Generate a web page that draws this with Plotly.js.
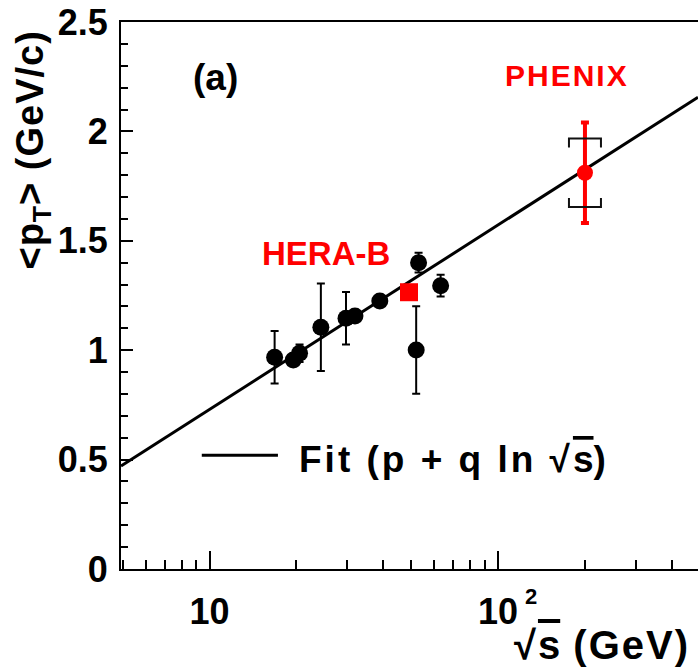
<!DOCTYPE html>
<html>
<head>
<meta charset="utf-8">
<script src="https://cdn.plot.ly/plotly-3.0.1.min.js"></script>
<style>
  html, body { margin: 0; padding: 0; background: #fff; }
  #chart { width: 698px; height: 668px; }
</style>
</head>
<body>
<div id="chart"></div>
<script>
// Mean transverse momentum of J/psi versus collision energy

// Lower-energy measurements (black circles)
const worldSqrtS   = [16.8, 19.5, 20.5, 24.3, 29.7, 31.9, 38.9, 53.0, 52.0, 63.2];
const worldMeanPt  = [0.968, 0.955, 0.986, 1.105, 1.146, 1.156, 1.225, 1.400, 1.001, 1.295];
const worldErr     = [0.12, 0, 0.04, 0.20, 0.12, 0, 0, 0.045, 0.20, 0.05];

// HERA-B (red square)
const herabSqrtS  = [49.1];
const herabMeanPt = [1.265];

// PHENIX (red circle) with statistical and systematic uncertainties
const phenixSqrtS  = [200];
const phenixMeanPt = [1.811];
const phenixStat   = [0.23];
const phenixSys    = [0.157];

// Fit  <pT> = p + q ln(sqrt(s))
const fitP = -0.113;
const fitQ = 0.366;
const fitRange = [4.93, 493];

// Axis ticks
const xMajorTicks = [10, 100];
const xMajorText  = ['10', '10'];
const xMinorTicks = [5, 6, 7, 8, 9, 20, 30, 40, 50, 60, 70, 80, 90, 200, 300, 400];

const FONT = 'Liberation Sans, Arial, Helvetica, sans-serif';

const fitY = fitRange.map(s => fitP + fitQ * Math.log(s));

const traces = [
  {
    x: fitRange, y: fitY, type: 'scatter', mode: 'lines',
    line: { color: 'black', width: 3 }, showlegend: false, hoverinfo: 'skip'
  },
  {
    x: worldSqrtS, y: worldMeanPt, type: 'scatter', mode: 'markers',
    marker: { symbol: 'circle', size: 17, color: 'black' },
    error_y: { type: 'data', array: worldErr, visible: true, color: 'black', thickness: 2, width: 4 },
    showlegend: false
  },
  {
    x: herabSqrtS, y: herabMeanPt, type: 'scatter', mode: 'markers',
    marker: { symbol: 'square', size: 18, color: '#ff0000' },
    showlegend: false
  },
  {
    x: phenixSqrtS, y: phenixMeanPt, type: 'scatter', mode: 'markers',
    marker: { symbol: 'circle', size: 16, color: '#ff0000' },
    error_y: { type: 'data', array: phenixStat, visible: true, color: '#ff0000', thickness: 4, width: 4 },
    showlegend: false
  }
];

// Systematic-uncertainty brackets, pixel sized, anchored on the PHENIX point
const shapes = [];
phenixSqrtS.forEach((s, i) => {
  shapes.push({
    type: 'path', xref: 'x', yref: 'y',
    xsizemode: 'pixel', ysizemode: 'pixel',
    xanchor: s, yanchor: phenixMeanPt[i] + phenixSys[i],
    path: 'M-16,-9 L-16,0 L16,0 L16,-9',
    line: { color: '#111', width: 2 }
  });
  shapes.push({
    type: 'path', xref: 'x', yref: 'y',
    xsizemode: 'pixel', ysizemode: 'pixel',
    xanchor: s, yanchor: phenixMeanPt[i] - phenixSys[i],
    path: 'M-16,9 L-16,0 L16,0 L16,9',
    line: { color: '#111', width: 2 }
  });
});

// Legend sample line for the fit
shapes.push({
  type: 'line', xref: 'paper', yref: 'paper',
  x0: 0.140, x1: 0.272, y0: 0.208, y1: 0.208,
  line: { color: 'black', width: 3 }
});

const annotations = [
  {
    text: '(a)', xref: 'paper', yref: 'paper', x: 0.163, y: 0.899,
    xanchor: 'center', yanchor: 'middle', showarrow: false,
    font: { family: FONT, size: 37, color: 'black', weight: 'bold' }
  },
  {
    text: "<span style='letter-spacing:2px'>PHENIX</span>", xref: 'paper', yref: 'paper', x: 0.773, y: 0.903,
    xanchor: 'center', yanchor: 'middle', showarrow: false,
    font: { family: FONT, size: 30, color: '#ff0000', weight: 'bold' }
  },
  {
    text: 'HERA-B', xref: 'paper', yref: 'paper', x: 0.355, y: 0.576,
    xanchor: 'center', yanchor: 'middle', showarrow: false,
    font: { family: FONT, size: 33, color: '#ff0000', weight: 'bold' }
  },
  {
    text: "<span style='letter-spacing:3px'>Fit (p + q ln √</span><span style='text-decoration:overline'>s</span>)",
    xref: 'paper', yref: 'paper', x: 0.305, y: 0.201,
    xanchor: 'left', yanchor: 'middle', showarrow: false,
    font: { family: FONT, size: 37, color: 'black', weight: 'bold' }
  },
  {
    text: "<span style='letter-spacing:1px'>&lt;p<sub>T</sub>&gt; (GeV/c)</span>", textangle: -90,
    xref: 'paper', yref: 'paper', x: -0.1525, y: 0.765,
    xanchor: 'center', yanchor: 'middle', showarrow: false,
    font: { family: FONT, size: 38, color: 'black', weight: 'bold' }
  },
  {
    text: "<span style='letter-spacing:2px'>√</span><span style='text-decoration:overline'>s</span><span style='letter-spacing:2px'> (GeV)</span>",
    xref: 'paper', yref: 'paper', x: 0.9896, y: -0.139,
    xanchor: 'right', yanchor: 'middle', showarrow: false,
    font: { family: FONT, size: 40, color: 'black', weight: 'bold' }
  },
  {
    // exponent of the 10^2 tick label
    text: '2', xref: 'x', yref: 'paper', x: Math.log10(xMajorTicks[1]), y: 0,
    xanchor: 'left', yanchor: 'middle', xshift: 25, yshift: -27, showarrow: false,
    font: { family: FONT, size: 22, color: 'black', weight: 'bold' }
  }
];

const layout = {
  width: 698, height: 668,
  margin: { l: 121, r: 0, t: 22, b: 99, pad: 0 },
  paper_bgcolor: 'white', plot_bgcolor: 'white',
  showlegend: false,
  xaxis: {
    type: 'log',
    range: [Math.log10(fitRange[0]), Math.log10(fitRange[1])],
    tickmode: 'array', tickvals: xMajorTicks, ticktext: xMajorText,
    ticks: 'inside', ticklen: 18, tickwidth: 2, tickcolor: 'black',
    minor: { tickmode: 'array', tickvals: xMinorTicks, ticks: 'inside', ticklen: 9, tickwidth: 2, tickcolor: 'black', showgrid: false },
    showline: true, linewidth: 2, linecolor: 'black', mirror: true,
    showgrid: false, zeroline: false,
    ticklabelstandoff: 10,
    tickfont: { family: FONT, size: 36, color: 'black', weight: 'bold' }
  },
  yaxis: {
    range: [0, 2.5], tick0: 0, dtick: 0.5,
    ticks: 'inside', ticklen: 12, tickwidth: 2, tickcolor: 'black',
    minor: { dtick: 0.1, ticks: 'inside', ticklen: 7, tickwidth: 2, tickcolor: 'black', showgrid: false },
    showline: true, linewidth: 2, linecolor: 'black',
    showgrid: false, zeroline: false,
    ticklabelstandoff: 4,
    tickfont: { family: FONT, size: 36, color: 'black', weight: 'bold' }
  },
  shapes: shapes,
  annotations: annotations
};

Plotly.newPlot('chart', traces, layout, { displayModeBar: false, staticPlot: true });
</script>
</body>
</html>
